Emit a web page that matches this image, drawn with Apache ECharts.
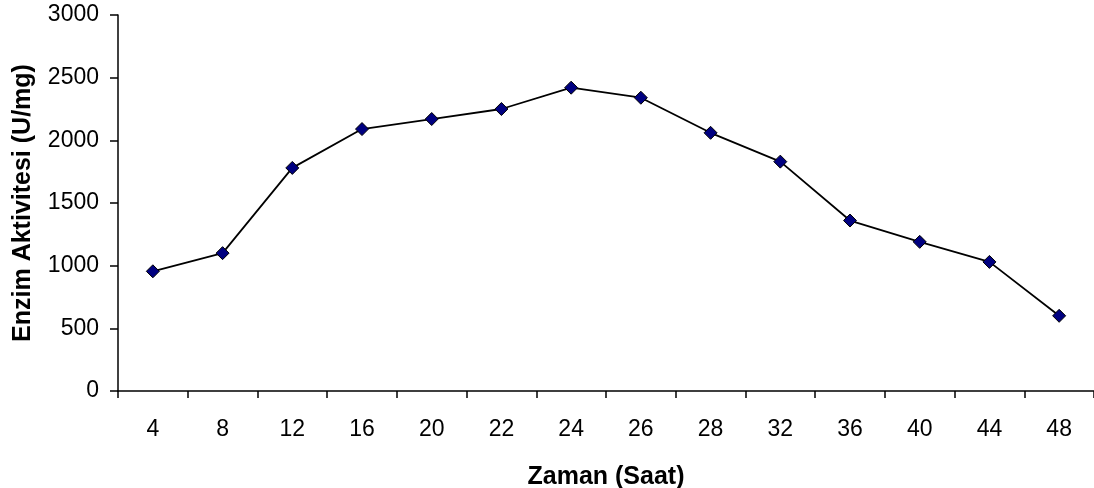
<!DOCTYPE html>
<html>
<head>
<meta charset="utf-8">
<script src="https://cdn.jsdelivr.net/npm/echarts@6/dist/echarts.min.js"></script>
<style>
  html, body { margin: 0; padding: 0; background: #fff; }
  #chart { width: 1094px; height: 488px; }
</style>
</head>
<body>
<div id="chart"></div>
<script>
// Sampling times (hours) and measured enzyme activity (U/mg)
const hours = ['4', '8', '12', '16', '20', '22', '24', '26', '28', '32', '36', '40', '44', '48'];
const activity = [955, 1100, 1780, 2090, 2170, 2250, 2420, 2340, 2060, 1830, 1360, 1190, 1030, 600];

const FONT = 'Liberation Sans, Arial, sans-serif';

const chart = echarts.init(document.getElementById('chart'));
chart.setOption({
  animation: false,
  backgroundColor: '#ffffff',
  grid: { left: 118, right: 0, top: 15, bottom: 97, containLabel: false, outerBoundsMode: 'none' },
  xAxis: {
    type: 'category',
    data: hours,
    boundaryGap: true,
    name: 'Zaman (Saat)',
    nameLocation: 'middle',
    nameGap: 74,
    nameTextStyle: { fontFamily: FONT, fontSize: 25, fontWeight: 'bold', color: '#000' },
    axisLine: { lineStyle: { color: '#000', width: 1.5 } },
    axisTick: { show: true, inside: false, length: 7, lineStyle: { color: '#000', width: 1.5 } },
    axisLabel: { fontFamily: FONT, fontSize: 23, color: '#000', margin: 27 },
    splitLine: { show: false }
  },
  yAxis: {
    type: 'value',
    min: 0,
    max: 3000,
    interval: 500,
    name: 'Enzim Aktivitesi (U/mg)',
    nameLocation: 'middle',
    nameGap: 82,
    nameTextStyle: { fontFamily: FONT, fontSize: 25, fontWeight: 'bold', color: '#000' },
    axisLine: { show: true, lineStyle: { color: '#000', width: 1.5 } },
    axisTick: { show: true, inside: false, length: 8, lineStyle: { color: '#000', width: 1.5 } },
    axisLabel: {
      fontFamily: FONT, fontSize: 23, color: '#000', margin: 19,
      formatter: (v) => String(v)
    },
    splitLine: { show: false }
  },
  series: [{
    type: 'line',
    data: activity,
    symbol: 'diamond',
    symbolSize: 13,
    lineStyle: { color: '#000', width: 1.8 },
    itemStyle: { color: '#000080', borderColor: '#000', borderWidth: 1 }
  }]
});
</script>
</body>
</html>
